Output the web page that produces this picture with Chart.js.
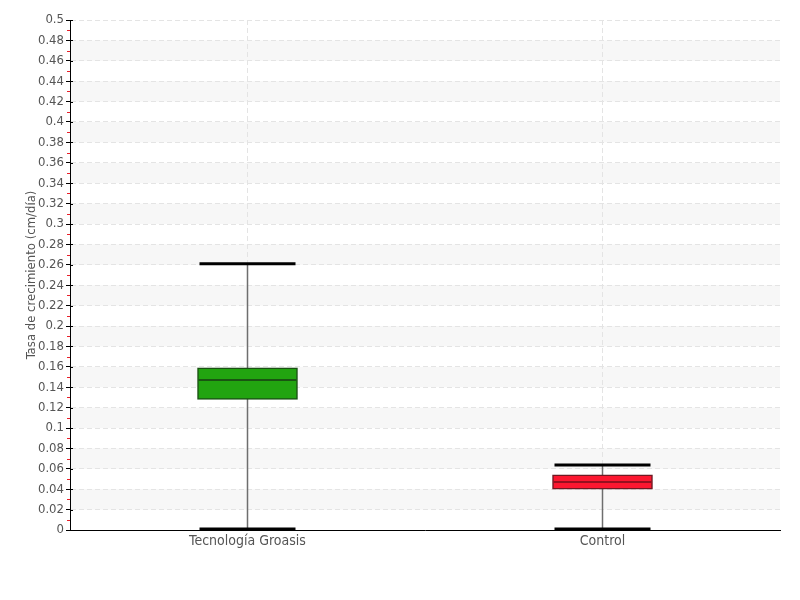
<!DOCTYPE html>
<html>
<head>
<meta charset="utf-8">
<script src="https://cdn.jsdelivr.net/npm/chart.js@4.4.1/dist/chart.umd.min.js"></script>
<style>
  html, body { margin: 0; padding: 0; background: #ffffff; }
  #wrap { width: 800px; height: 600px; position: relative; }
</style>
</head>
<body>
<div id="wrap"><canvas id="c" width="800" height="600"></canvas></div>
<script>
const categories = ['Tecnología Groasis', 'Control'];
const whiskerLow  = [0.001, 0.001];
const q1          = [0.128, 0.040];
const median      = [0.147, 0.047];
const q3          = [0.159, 0.054];
const whiskerHigh = [0.261, 0.0637];
const yTicks = [0,0.02,0.04,0.06,0.08,0.1,0.12,0.14,0.16,0.18,0.2,0.22,0.24,0.26,0.28,0.3,0.32,0.34,0.36,0.38,0.4,0.42,0.44,0.46,0.48,0.5];
const yTitle = 'Tasa de crecimiento (cm/día)';

const fillColors   = ['#22a410', '#fc1730'];
const borderColors = ['#1b5014', '#6e1a23'];
const medianColors = ['#1a5412', '#96101f'];
const FONT = '"DejaVu Sans Condensed", "Roboto", sans-serif';

const bandsPlugin = {
  id: 'bands',
  beforeDraw(chart) {
    const {ctx, chartArea, scales: {y}} = chart;
    ctx.save();
    ctx.fillStyle = '#f7f7f7';
    for (let i = 1; i < yTicks.length - 1; i += 2) {
      const yTop = y.getPixelForValue(yTicks[i + 1]);
      const yBot = y.getPixelForValue(yTicks[i]);
      ctx.fillRect(chartArea.left, yTop, chartArea.right - chartArea.left, yBot - yTop);
    }
    ctx.restore();
  },
  afterDraw(chart) {
    const {ctx, chartArea, scales: {y}} = chart;
    ctx.save();
    ctx.strokeStyle = '#e8202a';
    ctx.lineWidth = 1;
    for (let i = 0; i < yTicks.length - 1; i++) {
      const v = (yTicks[i] + yTicks[i + 1]) / 2;
      const py = Math.round(y.getPixelForValue(v)) + 0.5;
      ctx.beginPath();
      ctx.moveTo(chartArea.left - 3, py);
      ctx.lineTo(chartArea.left, py);
      ctx.stroke();
    }
    ctx.strokeStyle = '#000';
    for (const v of yTicks) {
      const py = Math.round(y.getPixelForValue(v)) + 0.5;
      ctx.beginPath();
      ctx.moveTo(chartArea.left, py);
      ctx.lineTo(chartArea.left + 3, py);
      ctx.stroke();
    }
    ctx.restore();
  }
};

const boxPlugin = {
  id: 'boxparts',
  beforeDatasetsDraw(chart) {
    const {ctx, scales: {x, y}} = chart;
    ctx.save();
    ctx.strokeStyle = '#6e6e6e';
    ctx.lineWidth = 1.5;
    categories.forEach((c, i) => {
      const px = x.getPixelForValue(i);
      ctx.beginPath();
      ctx.moveTo(px, y.getPixelForValue(whiskerHigh[i]));
      ctx.lineTo(px, y.getPixelForValue(whiskerLow[i]));
      ctx.stroke();
    });
    ctx.restore();
  },
  afterDatasetsDraw(chart) {
    const {ctx, scales: {x, y}} = chart;
    const meta = chart.getDatasetMeta(0);
    ctx.save();
    categories.forEach((c, i) => {
      const px = x.getPixelForValue(i);
      const w = meta.data[i].width;
      ctx.strokeStyle = medianColors[i];
      ctx.lineWidth = 2;
      const my = y.getPixelForValue(median[i]);
      ctx.beginPath();
      ctx.moveTo(px - w / 2 + 1, my);
      ctx.lineTo(px + w / 2 - 1, my);
      ctx.stroke();
      ctx.strokeStyle = '#000';
      ctx.lineWidth = 3;
      const hw = w * 0.48;
      for (const v of [whiskerHigh[i], whiskerLow[i]]) {
        const cy = y.getPixelForValue(v);
        ctx.beginPath();
        ctx.moveTo(px - hw, cy);
        ctx.lineTo(px + hw, cy);
        ctx.stroke();
      }
    });
    ctx.restore();
  }
};

new Chart(document.getElementById('c'), {
  type: 'bar',
  data: {
    labels: categories,
    datasets: [{
      data: categories.map((c, i) => [q1[i], q3[i]]),
      backgroundColor: fillColors,
      borderColor: borderColors,
      borderWidth: 1.5,
      borderSkipped: false,
      barThickness: 100
    }]
  },
  options: {
    responsive: false,
    animation: false,
    devicePixelRatio: 1,
    layout: { padding: { top: 20, right: 20, bottom: 45, left: 24 } },
    plugins: { legend: { display: false }, tooltip: { enabled: false } },
    scales: {
      x: {
        offset: true,
        grid: { offset: false, color: '#e4e4e4', drawTicks: false },
        border: { color: '#000', width: 1, dash: [5, 3] },
        ticks: { color: '#555', font: { family: FONT, size: 14 }, padding: 3 },
        afterFit(s) { s.height = 25; }
      },
      y: {
        min: 0, max: 0.5,
        afterBuildTicks(s) { s.ticks = yTicks.map(v => ({ value: v })); },
        grid: { color: '#e4e4e4', tickColor: '#000', tickLength: 4, drawTicks: true, tickBorderDash: [] },
        border: { color: '#000', width: 1, dash: [5, 3] },
        ticks: {
          color: '#555', font: { family: FONT, size: 13 }, padding: 2,
          callback: v => String(Number(v.toFixed(2)))
        },
        title: { display: true, text: yTitle, color: '#555', font: { family: FONT, size: 13 }, padding: 0 },
        afterFit(s) { s.width = 46; }
      }
    }
  },
  plugins: [bandsPlugin, boxPlugin]
});
</script>
</body>
</html>
